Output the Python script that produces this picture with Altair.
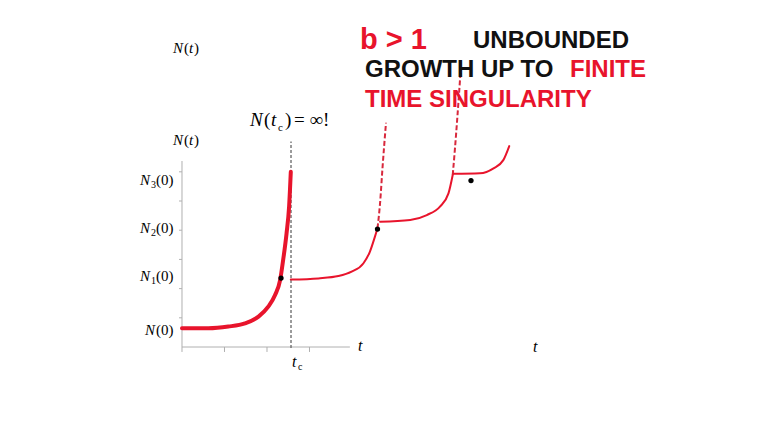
import altair as alt
import pandas as pd

# ---- data (t and N in chart units) ----
c1_t = [0.00, 0.62, 1.09, 1.48, 1.80, 2.03, 2.19, 2.31, 2.38, 2.46, 2.52, 2.56]
c1_n = [0.64, 0.64, 0.70, 0.81, 1.04, 1.38, 1.78, 2.30, 2.98, 3.89, 4.81, 6.00]

c2_t = [2.56, 3.21, 3.68, 3.99, 4.27, 4.42, 4.54, 4.60]
c2_n = [2.31, 2.35, 2.43, 2.58, 2.87, 3.26, 3.78, 4.07]
c2d_t = [4.60, 4.66, 4.72, 4.80]
c2d_n = [4.07, 4.92, 6.18, 7.68]

c3_t = [4.66, 5.37, 5.76, 6.07, 6.27, 6.37]
c3_n = [4.29, 4.35, 4.52, 4.81, 5.26, 5.89]
c3d_t = [6.37, 6.42, 6.48, 6.56]
c3d_n = [5.89, 6.75, 7.89, 9.55]

c4_t = [6.38, 7.01, 7.33, 7.56, 7.70]
c4_n = [5.93, 5.95, 6.12, 6.40, 6.88]

dot_t = [2.33, 4.60, 6.80]
dot_n = [2.36, 4.04, 5.70]

tc = 2.565
x_ticks = [0, 1, 2, 3]
y_ticks = [1, 2, 3, 4, 5, 6]
x_axis_end = 3.95
y_axis_end = 6.37

RED = "#e8142c"
W, H = 752, 422
xs = alt.Scale(domain=[-4.094, 13.6], nice=False, zero=False)
ys = alt.Scale(domain=[-2.842, 11.61], nice=False, zero=False)


def line_df(t, n):
    return pd.DataFrame({"t": t, "N": n})


def curve(t, n, width, dash=None, color=RED):
    kw = dict(color=color, strokeWidth=width, strokeCap="round",
              interpolate="monotone")
    if dash:
        kw["strokeDash"] = dash
        kw["strokeCap"] = "butt"
    return alt.Chart(line_df(t, n)).mark_line(**kw).encode(
        x=alt.X("t:Q", scale=xs, axis=None),
        y=alt.Y("N:Q", scale=ys, axis=None),
    )


# axes
axes_df = pd.DataFrame({
    "t": [0, 0], "t2": [0, x_axis_end], "N": [0, 0], "N2": [y_axis_end, 0]
})
axes = alt.Chart(axes_df).mark_rule(color="#b0b0b0", strokeWidth=1).encode(
    x=alt.X("t:Q", scale=xs, axis=None), x2="t2:Q",
    y=alt.Y("N:Q", scale=ys, axis=None), y2="N2:Q",
)
xt_df = pd.DataFrame({"t": x_ticks, "N": [0] * 4, "N2": [-0.17] * 4})
xt = alt.Chart(xt_df).mark_rule(color="#b0b0b0", strokeWidth=1).encode(
    x=alt.X("t:Q", scale=xs, axis=None),
    y=alt.Y("N:Q", scale=ys, axis=None), y2="N2:Q",
)
yt_df = pd.DataFrame({"N": y_ticks, "t": [0] * 6, "t2": [-0.07] * 6})
yt = alt.Chart(yt_df).mark_rule(color="#b0b0b0", strokeWidth=1).encode(
    x=alt.X("t:Q", scale=xs, axis=None), x2="t2:Q",
    y=alt.Y("N:Q", scale=ys, axis=None),
)

vline = alt.Chart(pd.DataFrame({"t": [tc], "N": [-0.03], "N2": [7.04]})).mark_rule(
    color="#666666", strokeWidth=1.3, strokeDash=[3, 2]
).encode(
    x=alt.X("t:Q", scale=xs, axis=None),
    y=alt.Y("N:Q", scale=ys, axis=None), y2="N2:Q",
)

dots = alt.Chart(line_df(dot_t, dot_n)).mark_point(
    filled=True, color="black", size=28, opacity=1
).encode(
    x=alt.X("t:Q", scale=xs, axis=None),
    y=alt.Y("N:Q", scale=ys, axis=None),
)


def txt(s, x, y, size, color="black", font="Liberation Serif", style="normal",
        weight="normal", align="left"):
    return alt.Chart(pd.DataFrame({"a": [0]})).mark_text(
        text=s, font=font, fontSize=size, fontStyle=style, fontWeight=weight,
        color=color, align=align, baseline="middle"
    ).encode(x=alt.value(x - 8), y=alt.value(y - 8))


SANS = "Liberation Sans"
texts = [
    # headline
    txt("b > 1", 360, 40, 29, RED, SANS, weight="bold"),
    txt("UNBOUNDED", 473, 41, 24, "#111111", SANS, weight="bold"),
    txt("GROWTH", 365, 70, 24, "#111111", SANS, weight="bold"),
    txt("UP TO", 481, 70, 24, "#111111", SANS, weight="bold"),
    txt("FINITE", 570, 70, 24, RED, SANS, weight="bold"),
    txt("TIME SINGULARITY", 365, 100, 24, RED, SANS, weight="bold"),
    # N(t) labels
    txt("N", 173, 48, 15, style="italic"), txt("(", 184, 48, 15),
    txt("t", 189, 48, 15, style="italic"), txt(")", 194, 48, 15),
    txt("N", 173, 140, 15, style="italic"), txt("(", 184, 140, 15),
    txt("t", 189, 140, 15, style="italic"), txt(")", 194, 140, 15),
    # N(tc) = inf
    txt("N", 250, 120, 19, style="italic"), txt("(", 264, 120, 19),
    txt("t", 271, 120, 19, style="italic"), txt("c", 278, 128, 11),
    txt(")", 285, 120, 19), txt("= \u221e!", 294, 120, 19),
    # y labels
    txt("N", 140, 180, 15, style="italic"), txt("3", 151, 185, 10), txt("(0)", 156, 180, 15),
    txt("N", 140, 228, 15, style="italic"), txt("2", 151, 233, 10), txt("(0)", 156, 228, 15),
    txt("N", 140, 276, 15, style="italic"), txt("1", 151, 281, 10), txt("(0)", 156, 276, 15),
    txt("N", 145, 330, 15, style="italic"), txt("(0)", 156, 330, 15),
    # x labels
    txt("t", 358, 346, 16, style="italic"),
    txt("t", 533, 347, 16, style="italic"),
    txt("t", 292, 362, 16, style="italic"), txt("c", 298, 367, 10),
]

chart = alt.layer(
    axes, xt, yt, vline,
    curve(c1_t, c1_n, 4),
    curve(c2_t, c2_n, 2),
    curve(c2d_t, c2d_n, 2, dash=[5, 2.5], color="#d8283c"),
    curve(c3_t, c3_n, 2),
    curve(c3d_t, c3d_n, 2, dash=[5, 2.5], color="#d8283c"),
    curve(c4_t, c4_n, 2),
    dots,
    *texts,
).properties(
    width=W, height=H, padding=0, autosize="none", background="white"
).configure_view(stroke=None)

chart.save("out.html", embed_options={"renderer": "svg", "actions": False})
